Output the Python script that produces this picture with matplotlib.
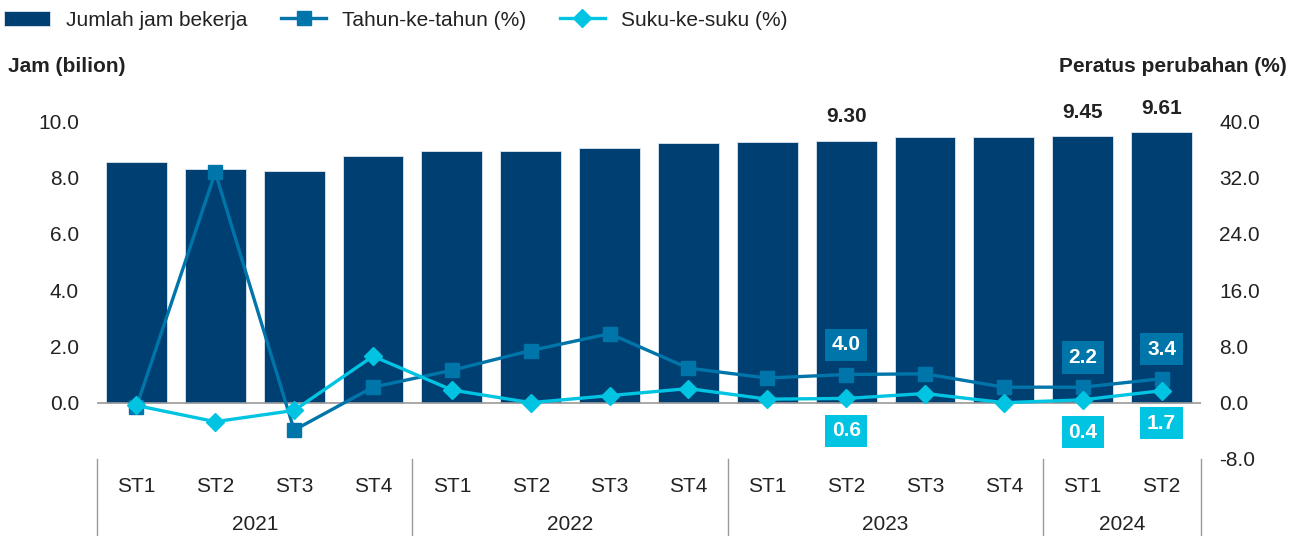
import matplotlib.pyplot as plt
import numpy as np

plt.rcParams['font.family'] = ['Liberation Sans', 'DejaVu Sans']

# data
quarters = ["ST1", "ST2", "ST3", "ST4", "ST1", "ST2", "ST3", "ST4",
            "ST1", "ST2", "ST3", "ST4", "ST1", "ST2"]
years = ["2021", "2022", "2023", "2024"]
year_sizes = [4, 4, 4, 2]
hours_bn = [8.54, 8.29, 8.22, 8.75, 8.93, 8.93, 9.04, 9.22,
            9.25, 9.30, 9.43, 9.43, 9.45, 9.61]
yoy_pct = [-0.6, 32.7, -3.9, 2.2, 4.6, 7.4, 9.8, 4.9,
           3.5, 4.0, 4.1, 2.2, 2.2, 3.4]
qoq_pct = [-0.4, -2.7, -1.1, 6.6, 1.8, 0.0, 1.0, 2.0,
           0.5, 0.6, 1.3, 0.0, 0.4, 1.7]

BAR_C = "#003f72"
YOY_C = "#0075a9"
QOQ_C = "#00c4e2"
TXT_C = "#222222"
FS = 15

fig = plt.figure(figsize=(12.99, 5.36), dpi=100)
ax = fig.add_axes([97 / 1299, 77 / 536, 1104 / 1299, 338 / 536])
ax2 = ax.twinx()

x = np.arange(len(hours_bn))
ax.bar(x, hours_bn, width=0.77, color=BAR_C, edgecolor="#dde6ee",
       linewidth=0.6, label="Jumlah jam bekerja", zorder=2)
ax.axhline(0, color="#9a9a9a", lw=1.2, zorder=3)

ax2.plot(x, yoy_pct, color=YOY_C, lw=2.4, marker="s", ms=10,
         label="Tahun-ke-tahun (%)", zorder=4)
ax2.plot(x, qoq_pct, color=QOQ_C, lw=2.4, marker="D", ms=9,
         label="Suku-ke-suku (%)", zorder=5)

ax.set_xlim(-0.5, len(x) - 0.5)
ax.set_ylim(-2, 10)
ax2.set_ylim(-8, 40)
ax.set_yticks(np.arange(0, 10.1, 2))
ax.set_yticklabels([f"{v:.1f}" for v in np.arange(0, 10.1, 2)])
ax2.set_yticks(np.arange(-8, 40.1, 8))
ax2.set_yticklabels([f"{v:.1f}" for v in np.arange(-8, 40.1, 8)])
for a in (ax, ax2):
    for s in a.spines.values():
        s.set_visible(False)
    a.tick_params(length=0, labelsize=FS, colors=TXT_C)
ax.tick_params(axis="y", pad=13)
ax2.tick_params(axis="y", pad=13)
ax.set_xticks([])

# category axis below the plot
for i, q in enumerate(quarters):
    ax.text(i, -0.08, q, transform=ax.get_xaxis_transform(), ha="center",
            va="center", fontsize=FS, color=TXT_C)
start = 0
bounds = [-0.5]
for yr, n in zip(years, year_sizes):
    ax.text(start + (n - 1) / 2, -0.195, yr, transform=ax.get_xaxis_transform(),
            ha="center", va="center", fontsize=FS, color=TXT_C)
    start += n
    bounds.append(start - 0.5)
for b in bounds:
    ax.plot([b, b], [0, -0.23], transform=ax.get_xaxis_transform(),
            color="#9a9a9a", lw=1, clip_on=False)

# value labels on selected bars
for i in (9, 12, 13):
    ax.text(i, hours_bn[i] + 0.85, f"{hours_bn[i]:.2f}", ha="center",
            va="center", fontsize=FS, fontweight="bold", color=TXT_C)

box = dict(boxstyle="square,pad=0.32", lw=0)
for i in (9, 12, 13):
    ax2.text(i, yoy_pct[i] + 4.2, f"{yoy_pct[i]:.1f}", ha="center", va="center",
             fontsize=FS, fontweight="bold", color="white",
             bbox=dict(box, fc=YOY_C))
for i in (9, 12, 13):
    ax2.text(i, qoq_pct[i] - 4.6, f"{qoq_pct[i]:.1f}", ha="center", va="center",
             fontsize=FS, fontweight="bold", color="white",
             bbox=dict(box, fc=QOQ_C))

fig.text(8 / 1299, 1 - 67 / 536, "Jam (bilion)", fontsize=FS,
         fontweight="bold", color=TXT_C, va="center", ha="left")
fig.text(1287 / 1299, 1 - 67 / 536, "Peratus perubahan (%)", fontsize=FS,
         fontweight="bold", color=TXT_C, va="center", ha="right")

h1, l1 = ax.get_legend_handles_labels()
h2, l2 = ax2.get_legend_handles_labels()
fig.legend(h1 + h2, l1 + l2, loc="center left",
           bbox_to_anchor=(-0.011, 1 - 20 / 536), ncol=3, frameon=False,
           fontsize=FS, handlelength=2.2, columnspacing=1.6,
           handletextpad=0.75, labelcolor=TXT_C)

fig.savefig("out.png", dpi=100)
